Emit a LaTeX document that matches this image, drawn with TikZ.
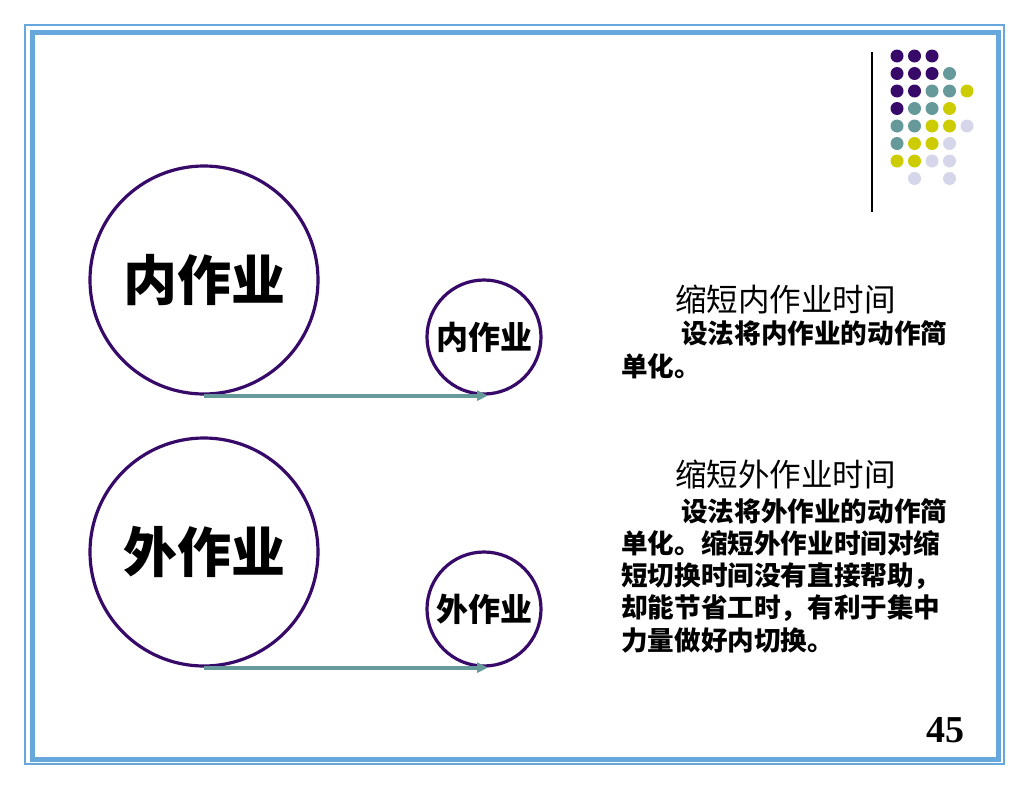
\documentclass[tikz,border=0pt]{standalone}
\usepackage{fontspec}
\usepackage{tikz}
\usepackage{xcolor}
\usetikzlibrary{arrows.meta}
\newfontfamily\cjk{Noto Sans CJK SC}
\newfontfamily\numfont{Liberation Serif}
\definecolor{framblue}{RGB}{102,168,222}
\definecolor{ringpurple}{RGB}{55,10,105}
\definecolor{dotteal}{RGB}{102,153,153}
\definecolor{dotyellow}{RGB}{204,204,0}
\definecolor{dotlilac}{RGB}{214,214,235}

\begin{document}
\begin{tikzpicture}[x=1pt, y=-1pt,
    ring/.style={draw=ringpurple, line width=3.2pt, circle, inner sep=0pt},
    dot/.style={circle, fill=#1, minimum size=13pt, inner sep=0pt},
    link/.style={draw=dotteal, line width=3.8pt, -{Triangle[length=11pt,width=10pt]}},
    title/.style={anchor=base west, inner sep=0pt, font=\cjk\fontsize{31.5}{36}\selectfont},
    body/.style={anchor=base west, inner sep=0pt, font=\cjk\bfseries\fontsize{26.6}{32}\selectfont}]
    \useasboundingbox (0,0) rectangle (1030,790);

    % frame
    \draw[framblue, line width=2pt] (25,25) rectangle (1004,764);
    \draw[framblue, line width=5pt] (32.5,32.5) rectangle (998,759);

    % dot grid
    \draw[black, line width=1.2pt] (872,52) -- (872,212);
    \foreach \c/\r/\col in {1/1/ringpurple, 2/1/ringpurple, 3/1/ringpurple,
                            1/2/ringpurple, 2/2/ringpurple, 3/2/ringpurple, 4/2/dotteal,
                            1/3/ringpurple, 2/3/ringpurple, 3/3/dotteal, 4/3/dotteal, 5/3/dotyellow,
                            1/4/ringpurple, 2/4/dotteal, 3/4/dotteal, 4/4/dotyellow,
                            1/5/dotteal, 2/5/dotteal, 3/5/dotyellow, 4/5/dotyellow, 5/5/dotlilac,
                            1/6/dotteal, 2/6/dotyellow, 3/6/dotyellow, 4/6/dotlilac,
                            1/7/dotyellow, 2/7/dotyellow, 3/7/dotlilac, 4/7/dotlilac,
                            2/8/dotlilac, 4/8/dotlilac} {
        \node[dot=\col] (d\c\r) at (879.5+\c*17.5, 38.5+\r*17.5) {};
    }

    % circles
    \node[ring, minimum size=228pt, font=\cjk\bfseries\fontsize{54}{60}\selectfont] (big1) at (204,280) {内作业};
    \node[ring, minimum size=114pt, font=\cjk\bfseries\fontsize{32}{38}\selectfont] (small1) at (484,337) {内作业};
    \node[ring, minimum size=228pt, font=\cjk\bfseries\fontsize{54}{60}\selectfont] (big2) at (204,552) {外作业};
    \node[ring, minimum size=114pt, font=\cjk\bfseries\fontsize{32}{38}\selectfont] (small2) at (484,609) {外作业};

    % arrows
    \draw[link] (big1.south) -- ([xshift=4pt]small1.south);
    \draw[link] (big2.south) -- ([xshift=4pt]small2.south);

    % text on the right
    \node[title] (t1) at (675,311) {缩短内作业时间};
    \node[body] (t1a) at (681,343) {设法将内作业的动作简};
    \node[body] (t1b) at (621,376) {单化。};

    \node[title] (t2) at (675,486) {缩短外作业时间};
    \node[body] (t2a) at (681,521) {设法将外作业的动作简};
    \node[body] (t2b) at (621,553.3) {单化。缩短外作业时间对缩};
    \node[body] (t2c) at (621,585.6) {短切换时间没有直接帮助，};
    \node[body] (t2d) at (621,617.9) {却能节省工时，有利于集中};
    \node[body] (t2e) at (621,650.2) {力量做好内切换。};

    % page number
    \node[font=\numfont\bfseries\fontsize{38}{44}\selectfont, anchor=base] (pg) at (945,742) {45};
\end{tikzpicture}
\end{document}
